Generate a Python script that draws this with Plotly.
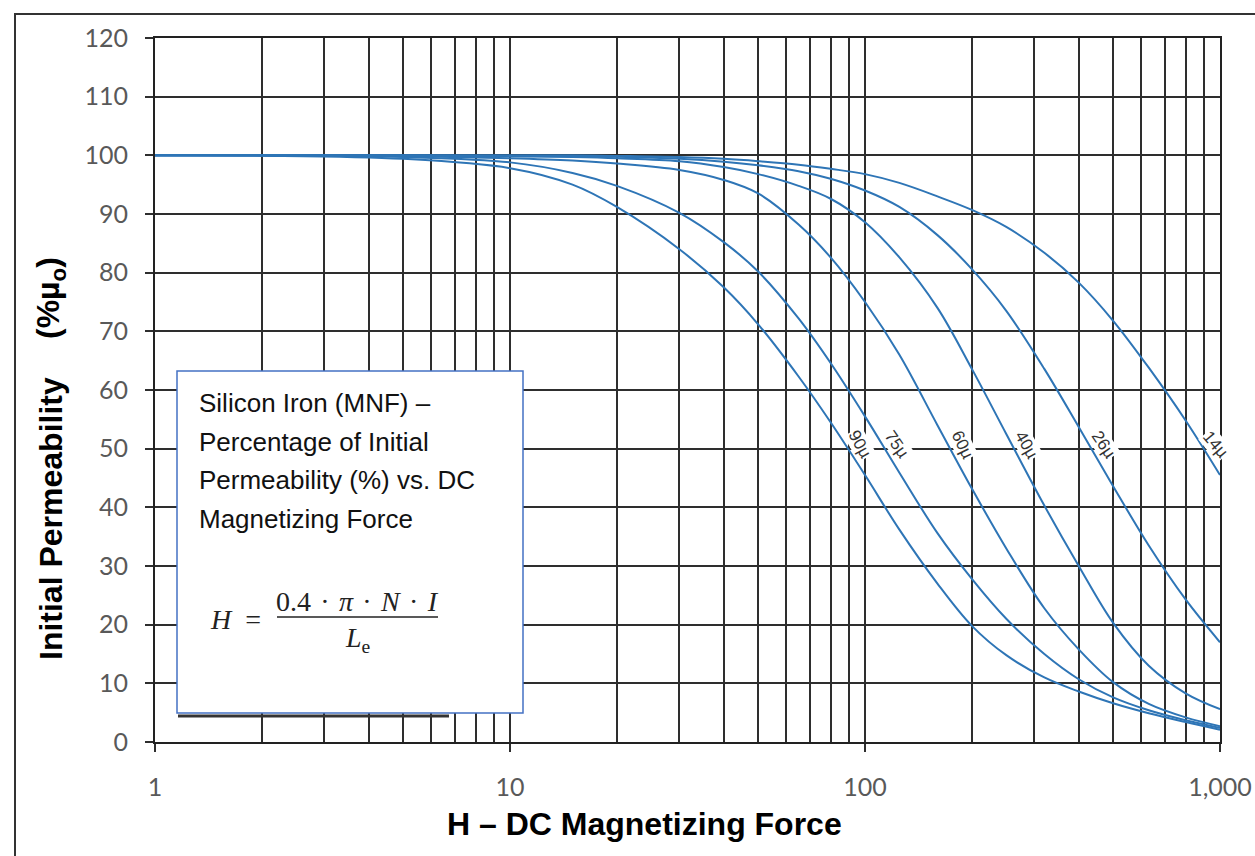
import plotly.graph_objects as go
import numpy as np

# DC magnetizing force (oersted) sample points
H_VALUES = [1, 2, 5, 10, 15, 20, 30, 40, 50, 65, 80, 100,
            125, 160, 200, 250, 320, 400, 500, 630, 800, 1000]

# Percent of initial permeability for each core permeability grade
PERM_90U = [100, 99.95, 99.4, 97.8, 95.0, 91.2, 84.0, 77.5, 71.2, 62.3, 54.5, 45.5,
            36.2, 27.0, 19.8, 14.8, 11.0, 8.6, 6.6, 4.9, 3.4, 2.1]
PERM_75U = [100, 99.98, 99.7, 98.8, 97.0, 94.8, 90.2, 85.2, 80.2, 72.2, 64.6, 55.5,
            45.9, 35.6, 27.8, 21.0, 15.0, 10.7, 7.6, 5.4, 3.7, 2.4]
PERM_60U = [100, 100, 99.9, 99.5, 99.1, 98.6, 97.5, 95.8, 93.5, 88.2, 82.6, 75.0,
            66.0, 54.0, 43.2, 33.0, 22.8, 15.8, 10.2, 6.5, 4.2, 2.7]
PERM_40U = [100, 100, 99.95, 99.85, 99.7, 99.5, 99.0, 98.0, 96.8, 94.8, 92.6, 88.6,
            82.6, 74.0, 63.6, 52.5, 40.3, 30.0, 20.3, 13.0, 8.3, 5.6]
PERM_26U = [100, 100, 100, 99.9, 99.85, 99.75, 99.4, 98.9, 98.3, 97.3, 96.0, 94.0,
            91.2, 86.4, 80.6, 73.5, 63.6, 53.7, 43.6, 33.5, 24.3, 17.0]
PERM_14U = [100, 100, 100, 100, 100, 99.9, 99.7, 99.4, 99.0, 98.4, 97.7, 96.8,
            95.3, 93.0, 90.7, 87.8, 83.4, 78.3, 71.8, 63.8, 54.8, 45.5]

SERIES_NAMES = ["90µ", "75µ", "60µ", "40µ", "26µ", "14µ"]
SERIES_PERM = [PERM_90U, PERM_75U, PERM_60U, PERM_40U, PERM_26U, PERM_14U]
LABEL_ANGLES = [61, 55, 64, 60, 56, 50]

X_TICKS = [1, 10, 100, 1000]
X_TICK_TEXT = ["1", "10", "100", "1,000"]
X_MINOR = [m * d for d in (1, 10, 100) for m in range(2, 10)]
Y_TICKS = list(range(0, 121, 10))

BOX_LINES = ["Silicon Iron (MNF) –", "Percentage of Initial",
             "Permeability (%) vs. DC", "Magnetizing Force"]

# ---- page geometry -------------------------------------------------------
FIG_W, FIG_H = 1255, 856
ML, MR, MT, MB = 155, 35, 38, 114
PW, PH = FIG_W - ML - MR, FIG_H - MT - MB


def paper(xp, yp):
    """Convert page pixels to paper coordinates."""
    return (xp - ML) / PW, (FIG_H - MB - yp) / PH


CURVE_COLOR = "#2E75B6"
GRID_COLOR = "#2e2e2e"
TICK_FONT = dict(family="Lato", size=25, color="#595959")

fig = go.Figure()

for name, pv in zip(SERIES_NAMES, SERIES_PERM):
    fig.add_trace(go.Scatter(
        x=H_VALUES, y=pv, mode="lines", name=name,
        line=dict(color=CURVE_COLOR, width=2, shape="spline", smoothing=1.0),
        hoverinfo="x+y+name",
    ))

# grade labels placed just right of where each curve passes 50 %
log_h = np.log10(H_VALUES)[::-1]
for name, pv, ang in zip(SERIES_NAMES, SERIES_PERM, LABEL_ANGLES):
    v = np.asarray(pv, dtype=float)[::-1]
    lx = float(np.interp(50.0, v, log_h))
    fig.add_annotation(
        x=lx, y=50, xref="x", yref="y", text=name, showarrow=False,
        textangle=ang, xshift=12, yshift=4,
        font=dict(family="Liberation Sans", size=17, color="#333333"),
        bgcolor="white", borderpad=0,
    )

shapes = []
# outer frame
x0, y0 = paper(15, 14)
x1, y1 = paper(FIG_W + 20, FIG_H + 20)
shapes.append(dict(type="rect", xref="paper", yref="paper", x0=x0, y0=y0, x1=x1, y1=y1,
                   line=dict(color="#333333", width=2), fillcolor="rgba(0,0,0,0)", layer="above"))
# dark bar under the note box
bx0, by0 = paper(178, 716)
bx1, _ = paper(449, 716)
shapes.append(dict(type="line", xref="paper", yref="paper", x0=bx0, y0=by0, x1=bx1, y1=by0,
                   line=dict(color="#333333", width=3), layer="above"))
# note box
nx0, ny0 = paper(177, 713)
nx1, ny1 = paper(523, 371)
shapes.append(dict(type="rect", xref="paper", yref="paper", x0=nx0, y0=ny0, x1=nx1, y1=ny1,
                   line=dict(color="#4472C4", width=1.5), fillcolor="white", layer="above"))
# fraction bar of the formula
fx0, fy0 = paper(277, 617)
fx1, _ = paper(438, 617)
shapes.append(dict(type="line", xref="paper", yref="paper", x0=fx0, y0=fy0, x1=fx1, y1=fy0,
                   line=dict(color="#222222", width=1.3), layer="above"))
fig.update_layout(shapes=shapes)

# note box text
for k, line in enumerate(BOX_LINES):
    ax, ay = paper(197, 403 + k * 38.5)
    fig.add_annotation(x=ax, y=ay, xref="paper", yref="paper", text=line, showarrow=False,
                       xanchor="left", yanchor="middle",
                       font=dict(family="Liberation Sans", size=26, color="#111111"))

# formula  H = 0.4·π·N·I / Le
SERIF = dict(family="Liberation Serif", size=28, color="#222222")
DOT = "\u2004·\u2004"
ax, ay = paper(208, 619)
fig.add_annotation(x=ax, y=ay, xref="paper", yref="paper", text="<i>H</i>\u2002=",
                   showarrow=False, xanchor="left", yanchor="middle", font=SERIF)
ax, ay = paper(357.5, 601)
fig.add_annotation(x=ax, y=ay, xref="paper", yref="paper",
                   text="0.4" + DOT + "<i>π</i>" + DOT + "<i>N</i>" + DOT + "<i>I</i>",
                   showarrow=False, xanchor="center", yanchor="middle", font=SERIF)
ax, ay = paper(358, 639)
fig.add_annotation(x=ax, y=ay, xref="paper", yref="paper", text="<i>L</i><sub>e</sub>",
                   showarrow=False, xanchor="center", yanchor="middle", font=SERIF)

# axis titles
TITLE_FONT = dict(family="Liberation Sans", size=32, color="#000000")
ax, ay = paper(644, 824)
fig.add_annotation(x=ax, y=ay, xref="paper", yref="paper",
                   text="<b>H – DC Magnetizing Force</b>", showarrow=False,
                   xanchor="center", yanchor="middle", font=TITLE_FONT)
ax, ay = paper(51, 519)
fig.add_annotation(x=ax, y=ay, xref="paper", yref="paper",
                   text="<b>Initial Permeability</b>", showarrow=False, textangle=-90,
                   xanchor="center", yanchor="middle", font=TITLE_FONT)
ax, ay = paper(51, 298)
fig.add_annotation(x=ax, y=ay, xref="paper", yref="paper",
                   text="<b>(%µ<sub>o</sub>)</b>", showarrow=False, textangle=-90,
                   xanchor="center", yanchor="middle", font=TITLE_FONT)

fig.update_xaxes(
    type="log", range=[0, 3],
    tickmode="array", tickvals=X_TICKS, ticktext=X_TICK_TEXT,
    ticks="outside", ticklen=8, tickwidth=1.5, tickcolor=GRID_COLOR,
    ticklabelstandoff=14, tickfont=TICK_FONT,
    showgrid=True, gridcolor=GRID_COLOR, gridwidth=1.7,
    minor=dict(tickmode="array", tickvals=X_MINOR, showgrid=True,
               gridcolor=GRID_COLOR, gridwidth=1.7, ticks=""),
    showline=True, linecolor="#222222", linewidth=2.4, mirror=True,
    zeroline=False,
)
fig.update_yaxes(
    range=[0, 120], tickmode="array", tickvals=Y_TICKS,
    ticks="outside", ticklen=8, tickwidth=1.5, tickcolor=GRID_COLOR,
    ticklabelstandoff=12, tickfont=TICK_FONT,
    showgrid=True, gridcolor=GRID_COLOR, gridwidth=1.7,
    showline=True, linecolor="#222222", linewidth=2.2, mirror=True,
    zeroline=False,
)

fig.update_layout(
    width=FIG_W, height=FIG_H,
    margin=dict(l=ML, r=MR, t=MT, b=MB, autoexpand=False),
    paper_bgcolor="white", plot_bgcolor="white",
    showlegend=False,
)

fig.write_html("out.html", include_plotlyjs=True, full_html=True,
               config=dict(displayModeBar=False))
